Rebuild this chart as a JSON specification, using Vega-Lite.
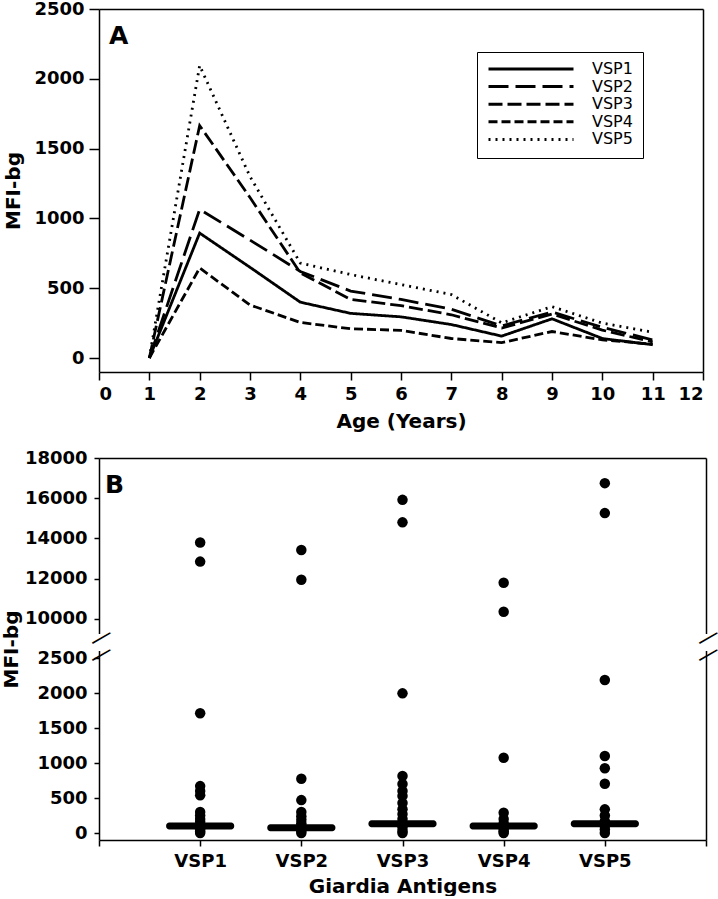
{
  "$schema": "https://vega.github.io/schema/vega-lite/v6.json",
  "padding": {"left": 1, "top": 0, "right": 4, "bottom": 0},
  "spacing": 86,
  "bounds": "flush",
  "datasets": {
    "lines": [
      {"antigen": "VSP1", "age": 1, "mfi": 0}, {"antigen": "VSP1", "age": 2, "mfi": 895}, {"antigen": "VSP1", "age": 3, "mfi": 650}, {"antigen": "VSP1", "age": 4, "mfi": 400}, {"antigen": "VSP1", "age": 5, "mfi": 320}, {"antigen": "VSP1", "age": 6, "mfi": 295}, {"antigen": "VSP1", "age": 7, "mfi": 240}, {"antigen": "VSP1", "age": 8, "mfi": 157}, {"antigen": "VSP1", "age": 9, "mfi": 281}, {"antigen": "VSP1", "age": 10, "mfi": 140}, {"antigen": "VSP1", "age": 11, "mfi": 95},
      {"antigen": "VSP2", "age": 1, "mfi": 0}, {"antigen": "VSP2", "age": 2, "mfi": 1065}, {"antigen": "VSP2", "age": 3, "mfi": 845}, {"antigen": "VSP2", "age": 4, "mfi": 620}, {"antigen": "VSP2", "age": 5, "mfi": 480}, {"antigen": "VSP2", "age": 6, "mfi": 420}, {"antigen": "VSP2", "age": 7, "mfi": 350}, {"antigen": "VSP2", "age": 8, "mfi": 230}, {"antigen": "VSP2", "age": 9, "mfi": 330}, {"antigen": "VSP2", "age": 10, "mfi": 220}, {"antigen": "VSP2", "age": 11, "mfi": 130},
      {"antigen": "VSP3", "age": 1, "mfi": 0}, {"antigen": "VSP3", "age": 2, "mfi": 1665}, {"antigen": "VSP3", "age": 3, "mfi": 1150}, {"antigen": "VSP3", "age": 4, "mfi": 610}, {"antigen": "VSP3", "age": 5, "mfi": 420}, {"antigen": "VSP3", "age": 6, "mfi": 375}, {"antigen": "VSP3", "age": 7, "mfi": 310}, {"antigen": "VSP3", "age": 8, "mfi": 215}, {"antigen": "VSP3", "age": 9, "mfi": 315}, {"antigen": "VSP3", "age": 10, "mfi": 200}, {"antigen": "VSP3", "age": 11, "mfi": 115},
      {"antigen": "VSP4", "age": 1, "mfi": 0}, {"antigen": "VSP4", "age": 2, "mfi": 645}, {"antigen": "VSP4", "age": 3, "mfi": 380}, {"antigen": "VSP4", "age": 4, "mfi": 255}, {"antigen": "VSP4", "age": 5, "mfi": 210}, {"antigen": "VSP4", "age": 6, "mfi": 198}, {"antigen": "VSP4", "age": 7, "mfi": 140}, {"antigen": "VSP4", "age": 8, "mfi": 110}, {"antigen": "VSP4", "age": 9, "mfi": 190}, {"antigen": "VSP4", "age": 10, "mfi": 130}, {"antigen": "VSP4", "age": 11, "mfi": 100},
      {"antigen": "VSP5", "age": 1, "mfi": 0}, {"antigen": "VSP5", "age": 2, "mfi": 2095}, {"antigen": "VSP5", "age": 3, "mfi": 1300}, {"antigen": "VSP5", "age": 4, "mfi": 680}, {"antigen": "VSP5", "age": 5, "mfi": 598}, {"antigen": "VSP5", "age": 6, "mfi": 526}, {"antigen": "VSP5", "age": 7, "mfi": 455}, {"antigen": "VSP5", "age": 8, "mfi": 252}, {"antigen": "VSP5", "age": 9, "mfi": 368}, {"antigen": "VSP5", "age": 10, "mfi": 250}, {"antigen": "VSP5", "age": 11, "mfi": 185}
    ],
    "pts": [
      {"antigen": "VSP1", "mfi": 13800}, {"antigen": "VSP1", "mfi": 12850}, {"antigen": "VSP1", "mfi": 1710}, {"antigen": "VSP1", "mfi": 670}, {"antigen": "VSP1", "mfi": 600}, {"antigen": "VSP1", "mfi": 540}, {"antigen": "VSP1", "mfi": 300}, {"antigen": "VSP1", "mfi": 250}, {"antigen": "VSP1", "mfi": 200}, {"antigen": "VSP1", "mfi": 160}, {"antigen": "VSP1", "mfi": 120}, {"antigen": "VSP1", "mfi": 80}, {"antigen": "VSP1", "mfi": 50}, {"antigen": "VSP1", "mfi": 20}, {"antigen": "VSP1", "mfi": 0},
      {"antigen": "VSP2", "mfi": 13430}, {"antigen": "VSP2", "mfi": 11950}, {"antigen": "VSP2", "mfi": 775}, {"antigen": "VSP2", "mfi": 470}, {"antigen": "VSP2", "mfi": 300}, {"antigen": "VSP2", "mfi": 240}, {"antigen": "VSP2", "mfi": 190}, {"antigen": "VSP2", "mfi": 140}, {"antigen": "VSP2", "mfi": 100}, {"antigen": "VSP2", "mfi": 60}, {"antigen": "VSP2", "mfi": 30}, {"antigen": "VSP2", "mfi": 0},
      {"antigen": "VSP3", "mfi": 15920}, {"antigen": "VSP3", "mfi": 14800}, {"antigen": "VSP3", "mfi": 1995}, {"antigen": "VSP3", "mfi": 814}, {"antigen": "VSP3", "mfi": 700}, {"antigen": "VSP3", "mfi": 600}, {"antigen": "VSP3", "mfi": 530}, {"antigen": "VSP3", "mfi": 430}, {"antigen": "VSP3", "mfi": 340}, {"antigen": "VSP3", "mfi": 270}, {"antigen": "VSP3", "mfi": 200}, {"antigen": "VSP3", "mfi": 130}, {"antigen": "VSP3", "mfi": 80}, {"antigen": "VSP3", "mfi": 30}, {"antigen": "VSP3", "mfi": 0},
      {"antigen": "VSP4", "mfi": 11800}, {"antigen": "VSP4", "mfi": 10360}, {"antigen": "VSP4", "mfi": 1076}, {"antigen": "VSP4", "mfi": 290}, {"antigen": "VSP4", "mfi": 200}, {"antigen": "VSP4", "mfi": 140}, {"antigen": "VSP4", "mfi": 90}, {"antigen": "VSP4", "mfi": 50}, {"antigen": "VSP4", "mfi": 20}, {"antigen": "VSP4", "mfi": 0},
      {"antigen": "VSP5", "mfi": 16750}, {"antigen": "VSP5", "mfi": 15260}, {"antigen": "VSP5", "mfi": 2186}, {"antigen": "VSP5", "mfi": 1100}, {"antigen": "VSP5", "mfi": 924}, {"antigen": "VSP5", "mfi": 704}, {"antigen": "VSP5", "mfi": 338}, {"antigen": "VSP5", "mfi": 250}, {"antigen": "VSP5", "mfi": 170}, {"antigen": "VSP5", "mfi": 100}, {"antigen": "VSP5", "mfi": 50}, {"antigen": "VSP5", "mfi": 0}
    ],
    "med": [
      {"antigen": "VSP1", "mfi": 100}, {"antigen": "VSP2", "mfi": 76}, {"antigen": "VSP3", "mfi": 133}, {"antigen": "VSP4", "mfi": 100}, {"antigen": "VSP5", "mfi": 133}
    ],
    "breaks": [
      {"antigen": " ", "mfi": 9250, "mfi2": 2600}, {"antigen": "  ", "mfi": 9250, "mfi2": 2600}
    ],
    "labelA": [{"panel": "A", "age": 0.2, "mfi": 2250}],
    "labelB": [{"panel": "B", "antigen": " ", "mfi": 16260}]
  },
  "vconcat": [
    {
      "width": 604,
      "height": 363,
      "resolve": {"scale": {"x": "independent", "y": "independent"}, "axis": {"x": "independent", "y": "independent"}},
      "layer": [
        {
          "data": {"name": "lines"},
          "transform": [{"filter": {"field": "antigen", "oneOf": ["VSP1", "VSP2", "VSP3"]}}],
          "mark": {"type": "line", "strokeWidth": 2.8, "color": "black", "strokeCap": "butt"},
          "encoding": {
            "x": {"field": "age", "type": "quantitative", "scale": {"domain": [0, 12], "nice": false, "zero": false},
                  "axis": {"orient": "bottom", "values": [0, 1, 2, 3, 4, 5, 6, 7, 8, 9, 10, 11, 12], "format": "d", "title": "Age (Years)", "tickSize": 8, "labelPadding": 5, "titlePadding": 8}},
            "y": {"field": "mfi", "type": "quantitative", "scale": {"domain": [-100, 2500], "nice": false, "zero": false},
                  "axis": {"orient": "left", "values": [0, 500, 1000, 1500, 2000, 2500], "format": "d", "title": "MFI-bg", "tickSize": 10, "labelPadding": 5, "titlePadding": 10}},
            "strokeDash": {"field": "antigen", "type": "nominal",
              "scale": {"domain": ["VSP1", "VSP2", "VSP3", "VSP4", "VSP5"], "range": [[1, 0], [20, 7], [14, 5], [9, 4], [2, 5]]},
              "legend": {"title": null, "orient": "none", "legendX": 378, "legendY": 43, "symbolType": "stroke", "symbolSize": 7225, "symbolStrokeWidth": 3, "symbolStrokeColor": "black", "clipHeight": 14, "rowPadding": 1.6, "labelOffset": 17, "labelFontSize": 16, "labelFont": "DejaVu Sans", "labelFontWeight": "normal", "labelColor": "black", "padding": 10, "strokeColor": "black"}}
          }
        },
        {
          "data": {"name": "lines"},
          "transform": [{"filter": {"field": "antigen", "oneOf": ["VSP4", "VSP5"]}}],
          "mark": {"type": "line", "strokeWidth": 2.8, "color": "black", "strokeCap": "butt"},
          "encoding": {
            "x": {"field": "age", "type": "quantitative", "scale": {"domain": [0, 12], "nice": false, "zero": false},
                  "axis": {"orient": "top", "domain": true, "domainColor": "black", "domainWidth": 1.5, "labels": true, "labelExpr": "''", "labelFontSize": 1, "labelPadding": 0, "ticks": true, "tickSize": 0, "values": [0, 12], "title": null}},
            "y": {"field": "mfi", "type": "quantitative", "scale": {"domain": [-100, 2500], "nice": false, "zero": false},
                  "axis": {"orient": "right", "domain": true, "domainColor": "black", "domainWidth": 1.5, "labels": true, "labelExpr": "''", "labelFontSize": 1, "labelPadding": 0, "ticks": true, "tickSize": 0, "values": [0, 2500], "title": null}},
            "strokeDash": {"field": "antigen", "type": "nominal"}
          }
        },
        {
          "data": {"name": "labelA"},
          "mark": {"type": "text", "align": "left", "baseline": "alphabetic", "fontSize": 25, "fontWeight": "bold", "font": "DejaVu Sans", "color": "black"},
          "encoding": {
            "x": {"field": "age", "type": "quantitative", "scale": {"domain": [0, 12], "nice": false, "zero": false}, "axis": null},
            "y": {"field": "mfi", "type": "quantitative", "scale": {"domain": [-100, 2500], "nice": false, "zero": false}, "axis": null},
            "text": {"field": "panel"}
          }
        }
      ]
    },
    {
      "width": 607,
      "height": 382,
      "resolve": {"scale": {"x": "independent", "y": "independent"}, "axis": {"x": "independent", "y": "independent"}},
      "layer": [
        {
          "data": {"name": "pts"},
          "mark": {"type": "circle", "size": 110, "color": "black", "opacity": 1},
          "encoding": {
            "x": {"field": "antigen", "type": "nominal",
                  "scale": {"type": "point", "domain": [" ", "VSP1", "VSP2", "VSP3", "VSP4", "VSP5", "  "], "padding": 0},
                  "axis": {"orient": "bottom", "title": "Giardia Antigens", "labelAngle": 0, "tickSize": 6, "labelPadding": 6, "titlePadding": 6}},
            "y": {"field": "mfi", "type": "quantitative",
                  "scale": {"domain": [-100, 2600, 9250, 18000], "range": [382, 193, 176, 0], "nice": false, "zero": false},
                  "axis": {"orient": "left", "values": [0, 500, 1000, 1500, 2000, 2500, 10000, 12000, 14000, 16000, 18000], "format": "d", "title": "MFI-bg", "tickSize": 5, "labelPadding": 7, "titlePadding": 3}}
          }
        },
        {
          "data": {"name": "med"},
          "mark": {"type": "tick", "size": 68, "thickness": 7, "color": "black", "cornerRadius": 3, "opacity": 1},
          "encoding": {
            "x": {"field": "antigen", "type": "nominal",
                  "scale": {"type": "point", "domain": [" ", "VSP1", "VSP2", "VSP3", "VSP4", "VSP5", "  "], "padding": 0},
                  "axis": {"orient": "top", "domain": true, "domainColor": "black", "domainWidth": 1.5, "labels": true, "labelExpr": "''", "labelFontSize": 1, "labelPadding": 0, "ticks": true, "tickSize": 0, "values": [" ", "  "], "title": null}},
            "y": {"field": "mfi", "type": "quantitative",
                  "scale": {"domain": [-100, 2600, 9250, 18000], "range": [382, 193, 176, 0], "nice": false, "zero": false},
                  "axis": {"orient": "right", "domain": true, "domainColor": "black", "domainWidth": 1.5, "labels": true, "labelExpr": "''", "labelFontSize": 1, "labelPadding": 0, "ticks": true, "tickSize": 0, "values": [0, 18000], "title": null}}
          }
        },
        {
          "data": {"name": "breaks"},
          "mark": {"type": "rule", "color": "white", "strokeWidth": 6},
          "encoding": {
            "x": {"field": "antigen", "type": "nominal", "scale": {"type": "point", "domain": [" ", "VSP1", "VSP2", "VSP3", "VSP4", "VSP5", "  "], "padding": 0}, "axis": null},
            "y": {"field": "mfi", "type": "quantitative", "scale": {"domain": [-100, 2600, 9250, 18000], "range": [382, 193, 176, 0], "nice": false, "zero": false}, "axis": null},
            "y2": {"field": "mfi2"}
          }
        },
        {
          "data": {"name": "breaks"},
          "mark": {"type": "text", "text": "—", "angle": -30, "fontSize": 23, "font": "DejaVu Sans", "baseline": "middle", "align": "center", "dy": 4, "color": "black"},
          "encoding": {
            "x": {"field": "antigen", "type": "nominal", "scale": {"type": "point", "domain": [" ", "VSP1", "VSP2", "VSP3", "VSP4", "VSP5", "  "], "padding": 0}, "axis": null},
            "y": {"field": "mfi", "type": "quantitative", "scale": {"domain": [-100, 2600, 9250, 18000], "range": [382, 193, 176, 0], "nice": false, "zero": false}, "axis": null}
          }
        },
        {
          "data": {"name": "breaks"},
          "mark": {"type": "text", "text": "—", "angle": -30, "fontSize": 23, "font": "DejaVu Sans", "baseline": "middle", "align": "center", "dy": 4, "color": "black"},
          "encoding": {
            "x": {"field": "antigen", "type": "nominal", "scale": {"type": "point", "domain": [" ", "VSP1", "VSP2", "VSP3", "VSP4", "VSP5", "  "], "padding": 0}, "axis": null},
            "y": {"field": "mfi2", "type": "quantitative", "scale": {"domain": [-100, 2600, 9250, 18000], "range": [382, 193, 176, 0], "nice": false, "zero": false}, "axis": null}
          }
        },
        {
          "data": {"name": "labelB"},
          "mark": {"type": "text", "align": "left", "baseline": "alphabetic", "dx": 6, "fontSize": 25, "fontWeight": "bold", "font": "DejaVu Sans", "color": "black"},
          "encoding": {
            "x": {"field": "antigen", "type": "nominal", "scale": {"type": "point", "domain": [" ", "VSP1", "VSP2", "VSP3", "VSP4", "VSP5", "  "], "padding": 0}, "axis": null},
            "y": {"field": "mfi", "type": "quantitative", "scale": {"domain": [-100, 2600, 9250, 18000], "range": [382, 193, 176, 0], "nice": false, "zero": false}, "axis": null},
            "text": {"field": "panel"}
          }
        }
      ]
    }
  ],
  "config": {
    "font": "DejaVu Sans",
    "view": {"stroke": null},
    "axis": {"domain": true, "domainColor": "black", "domainWidth": 1.5, "grid": false, "labelFont": "DejaVu Sans", "labelFontWeight": "bold", "labelFontSize": 18, "labelColor": "black", "titleFont": "DejaVu Sans", "titleFontWeight": "bold", "titleFontSize": 20, "titleColor": "black", "tickColor": "black", "tickWidth": 1.5}
  }
}
